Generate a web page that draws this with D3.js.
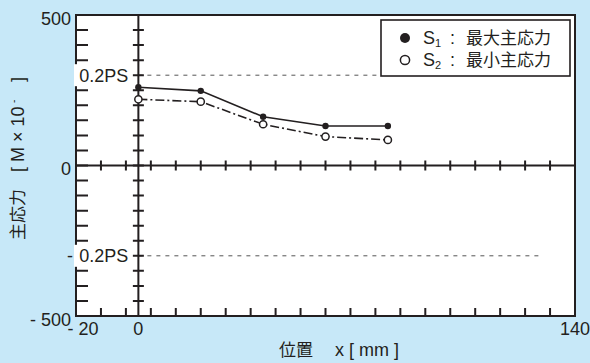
<!DOCTYPE html>
<html><head><meta charset="utf-8">
<script src="https://cdn.jsdelivr.net/npm/d3@7"></script>
<style>
html,body{margin:0;padding:0;background:#c7e8f8;}
svg{display:block;}
text{font-family:"Liberation Sans","Noto Sans CJK JP",sans-serif;fill:#231f20;}
</style></head>
<body>
<svg id="chart" width="590" height="363"></svg>
<script>
// ---- data ----
const positions = [0, 20, 40, 60, 80];
const s1Values = [260, 248, 162, 131, 131];   // 最大主応力
const s2Values = [220, 212, 137, 96, 85];     // 最小主応力
const refLevels = [300, -300];                 // ±0.2PS
const xTickLabels = [{v:-20,t:"- 20"},{v:0,t:"0"},{v:140,t:"140"}];
const yTickLabels = [{v:500,t:"500"},{v:0,t:"0"},{v:-500,t:"- 500"}];
const xMinorTicks = [-12, -4, 4, 12, 20, 28, 36, 44, 52, 60, 68, 76, 84, 92, 100, 108, 116, 124, 132];
const yMinorTicks = [-450, -400, -350, -300, -250, -200, -150, -100, -50, 0, 50, 100, 150, 200, 250, 300, 350, 400, 450];
const legendItems = [{sub:"1", label:"最大主応力", filled:true},{sub:"2", label:"最小主応力", filled:false}];

const svg = d3.select("#chart");
const L = 76, R = 575, T = 15, B = 316;
const x = d3.scaleLinear().domain([-20, 140]).range([L, R]);
const y = d3.scaleLinear().domain([-500, 500]).range([B, T]);
const ink = "#231f20";

svg.append("rect").attr("x", L).attr("y", T).attr("width", R - L).attr("height", B - T).attr("fill", "#fff");

// reference dashed lines
refLevels.forEach(v => {
  svg.append("line").attr("x1", x(0)).attr("x2", x(129)).attr("y1", y(v)).attr("y2", y(v))
    .attr("stroke", "#555").attr("stroke-width", 1).attr("stroke-dasharray", "4,5");
});

// frame and zero lines
const fp = d3.path();
fp.rect(L, T, R - L, B - T);
fp.moveTo(L, y(0)); fp.lineTo(R, y(0));
fp.moveTo(x(0), T); fp.lineTo(x(0), B);
svg.append("path").attr("d", fp.toString()).attr("fill", "none")
  .attr("stroke", ink).attr("stroke-width", 2);

// tick marks built from the scales
const tp = d3.path();
yMinorTicks.forEach(v => {
  tp.moveTo(L, y(v)); tp.lineTo(L + 12, y(v));
  tp.moveTo(x(0) - 5.5, y(v)); tp.lineTo(x(0) + 5.5, y(v));
});
xMinorTicks.forEach(v => {
  tp.moveTo(x(v), B); tp.lineTo(x(v), B - 8);
  tp.moveTo(x(v), y(0) - 5); tp.lineTo(x(v), y(0) + 5);
});
svg.append("path").attr("d", tp.toString()).attr("fill", "none")
  .attr("stroke", ink).attr("stroke-width", 2).attr("stroke-linecap", "butt");

// reference labels with white background
refLevels.forEach(v => {
  svg.append("rect").attr("x", L - 2).attr("y", y(v) - 11).attr("width", 56).attr("height", 22).attr("fill", "#fff");
  svg.append("text").attr("x", x(0) - 10).attr("y", y(v) + 6.5)
    .attr("text-anchor", "end").attr("font-size", 18).text("0.2PS");
  if (v < 0) {
    svg.append("text").attr("x", L - 3).attr("y", y(v) + 6.5)
      .attr("text-anchor", "end").attr("font-size", 18).text("-");
  }
});

// series
const pts1 = positions.map((p, i) => [p, s1Values[i]]);
const pts2 = positions.map((p, i) => [p, s2Values[i]]);
const line = d3.line().x(d => x(d[0])).y(d => y(d[1]));
svg.append("path").attr("d", line(pts1)).attr("fill", "none").attr("stroke", ink).attr("stroke-width", 1.6);
svg.append("path").attr("d", line(pts2)).attr("fill", "none").attr("stroke", ink).attr("stroke-width", 1.6)
  .attr("stroke-dasharray", "9,3,2,3");
svg.append("g").selectAll("circle").data(pts1).enter().append("circle")
  .attr("cx", d => x(d[0])).attr("cy", d => y(d[1])).attr("r", 3.2).attr("fill", ink);
svg.append("g").selectAll("circle").data(pts2).enter().append("circle")
  .attr("cx", d => x(d[0])).attr("cy", d => y(d[1])).attr("r", 3.6).attr("fill", "#fff")
  .attr("stroke", ink).attr("stroke-width", 1.5);

// axis labels
yTickLabels.forEach(d => {
  svg.append("text").attr("x", 71).attr("y", y(d.v) + 9.5)
    .attr("text-anchor", "end").attr("font-size", 18).text(d.t);
});
xTickLabels.forEach(d => {
  svg.append("text").attr("x", d.v === -20 ? x(d.v) + 7 : x(d.v)).attr("y", 335)
    .attr("text-anchor", "middle").attr("font-size", 18).text(d.t);
});

// axis titles
const xt = svg.append("text").attr("y", 356);
xt.append("tspan").attr("x", 279).attr("font-size", 17).text("位置");
xt.append("tspan").attr("x", 335).attr("font-size", 18).text("x [ mm ]");

const yt = svg.append("text").attr("transform", "translate(24,240) rotate(-90)").attr("font-size", 17);
yt.append("tspan").attr("x", 0).text("主応力");
yt.append("tspan").attr("x", 68).attr("font-size", 18).text("[ M × 10");
yt.append("tspan").attr("x", 137).attr("dy", -7).attr("font-size", 10).text("-");
yt.append("tspan").attr("x", 158).attr("dy", 7).attr("font-size", 18).text("]");

// legend
const lg = svg.append("g");
lg.append("rect").attr("x", 381).attr("y", 20).attr("width", 189).attr("height", 56)
  .attr("fill", "#fff").attr("stroke", ink).attr("stroke-width", 1.6);
legendItems.forEach((it, i) => {
  const cy = 38 + i * 22;
  lg.append("circle").attr("cx", 405).attr("cy", cy).attr("r", it.filled ? 5 : 4.6)
    .attr("fill", it.filled ? ink : "#fff").attr("stroke", ink).attr("stroke-width", it.filled ? 0 : 1.5);
  const t = lg.append("text").attr("y", cy + 6);
  t.append("tspan").attr("x", 423).attr("font-size", 18).text("S");
  t.append("tspan").attr("font-size", 11).attr("dy", 3).text(it.sub);
  t.append("tspan").attr("x", 450).attr("dy", -3).attr("font-size", 18).text(":");
  t.append("tspan").attr("x", 466).attr("font-size", 17).text(it.label);
});
</script>
</body></html>
